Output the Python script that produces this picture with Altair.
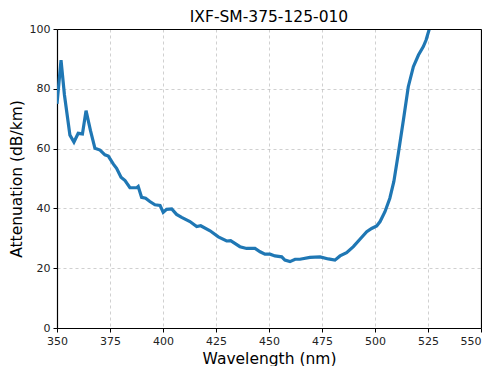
import altair as alt
import pandas as pd

wavelength = [350.0, 351.9, 353.5, 356.1, 358.0, 360.0, 362.0, 363.7, 365.8, 367.9, 370.3,
              372.6, 374.2, 376.6, 378.1, 380.2, 382.1, 384.4, 387.6, 388.3, 389.9,
              391.8, 393.8, 396.2, 398.6, 400.1, 401.7, 404.1, 406.4, 408.8, 412.7,
              415.9, 417.8, 422.2, 426.1, 430.0, 431.9, 436.3, 439.4, 443.4, 445.8,
              448.1, 450.5, 452.8, 456.0, 457.5, 459.9, 462.3, 464.6, 469.3, 474.1,
              478.0, 481.1, 483.5, 486.6, 489.8, 492.9, 496.1, 498.4, 500.8, 502.4,
              504.7, 507.0, 508.9, 511.0, 513.4, 515.7, 518.1, 520.5, 522.8, 524.1,
              525.7]
attenuation = [75.0, 89.6, 78.0, 64.5, 62.2, 65.1, 64.9, 72.7, 66.0, 60.1, 59.5,
               57.9, 57.5, 54.8, 53.4, 50.4, 49.3, 46.9, 46.9, 47.3, 43.7,
               43.4, 42.3, 41.2, 41.0, 38.7, 39.7, 39.8, 38.0, 37.0, 35.6,
               33.9, 34.2, 32.5, 30.5, 29.1, 29.2, 27.2, 26.6, 26.6, 25.5,
               24.7, 24.7, 24.1, 23.8, 22.7, 22.2, 23.0, 23.0, 23.6, 23.8,
               23.1, 22.7, 24.1, 25.2, 27.2, 29.7, 32.2, 33.3, 34.1, 35.6,
               38.9, 43.4, 49.0, 58.4, 69.6, 80.7, 87.4, 91.3, 94.1, 96.3,
               100.2]

x_ticks = [350, 375, 400, 425, 450, 475, 500, 525, 550]
y_ticks = [0, 20, 40, 60, 80, 100]

df = pd.DataFrame({"wl": wavelength, "att": attenuation})

xscale = alt.Scale(domain=[350, 550], nice=False, zero=False)
yscale = alt.Scale(domain=[0, 100], nice=False)

main = alt.Chart(df).mark_line(color="#1f77b4", strokeWidth=3.2, clip=True).encode(
    x=alt.X("wl:Q", title="Wavelength (nm)", scale=xscale,
            axis=alt.Axis(values=x_ticks, format="d",
                          labelAlign=alt.condition("datum.value >= 550",
                                                   alt.value("right"), alt.value("center")))),
    y=alt.Y("att:Q", title="Attenuation (dB/km)", scale=yscale,
            axis=alt.Axis(values=y_ticks, format="d")),
)

frame = alt.Chart(df).mark_line(opacity=0).encode(
    x=alt.X("wl:Q", scale=xscale,
            axis=alt.Axis(orient="top", title=None, labels=False, ticks=False,
                          grid=False, domainColor="black", domainWidth=1.2, zindex=2)),
    y=alt.Y("att:Q", scale=yscale,
            axis=alt.Axis(orient="right", title=None, labels=False, ticks=False,
                          grid=False, domainColor="black", domainWidth=1.2, zindex=2)),
)

chart = alt.layer(main, frame).resolve_axis(
    x="independent", y="independent"
).properties(
    width=424, height=299,
    title=alt.TitleParams("IXF-SM-375-125-010", fontSize=15.5, font="DejaVu Sans",
                          fontWeight="normal", color="black", offset=2, dy=4),
    autosize=alt.AutoSizeParams(type="none"),
    padding={"left": 49, "top": 21, "right": 1, "bottom": 38},
).configure_view(
    stroke=None
).configure_axis(
    labelFont="DejaVu Sans", labelFontSize=11, labelColor="#222", labelFlush=False,
    titleFont="DejaVu Sans", titleFontSize=15.5, titleFontWeight="normal", titleColor="black",
    domainColor="black", domainWidth=1.2, tickColor="black", tickSize=4,
    grid=True, gridColor="#b0b0b0", gridDash=[3, 3], gridWidth=0.6,
    labelPadding=3,
).configure_axisX(titlePadding=5).configure_axisY(titlePadding=5)

chart.save("out.html", embed_options={"renderer": "svg", "actions": False})
